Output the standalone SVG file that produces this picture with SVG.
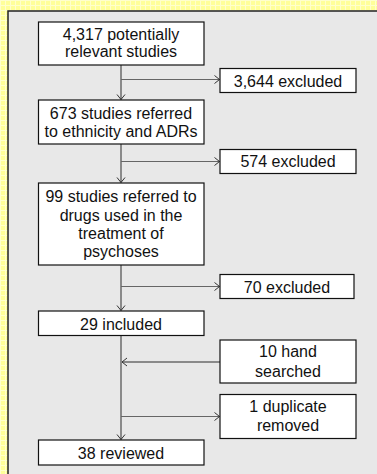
<svg xmlns="http://www.w3.org/2000/svg" width="377" height="474" viewBox="0 0 377 474">
<defs>
<pattern id="grid" width="5" height="5" patternUnits="userSpaceOnUse">
<rect width="5" height="5" fill="#FFFF99"/>
<path d="M0,0.5 H5 M0.5,0 V5" stroke="#FFFFCC" stroke-width="1"/>
</pattern>
<marker id="arr" markerWidth="8" markerHeight="10" refX="6" refY="5" orient="auto" markerUnits="userSpaceOnUse">
<path d="M1,1 L6,5 L1,9" fill="none" stroke="#333" stroke-width="1"/>
</marker>
<style>
.box{fill:#fff;stroke:#111;stroke-width:1.2}
.t{font-family:"Liberation Sans",Arial,sans-serif;font-size:16px;fill:#111;text-anchor:middle}
.main{stroke:#8a8a8a;stroke-width:2;fill:none}
.br{stroke:#666;stroke-width:1;fill:none}
</style>
</defs>
<rect width="377" height="474" fill="url(#grid)"/>
<rect x="8" y="11" width="372" height="466" fill="#E8E8E8" stroke="#222" stroke-width="1.5"/>
<g id="connectors">
<line class="main" x1="121" y1="65" x2="121" y2="99.5" marker-end="url(#arr)"/>
<line class="br" x1="121" y1="79.5" x2="219.5" y2="79.5" marker-end="url(#arr)"/>
<line class="main" x1="121" y1="144" x2="121" y2="182.5" marker-end="url(#arr)"/>
<line class="br" x1="121" y1="161.5" x2="219.5" y2="161.5" marker-end="url(#arr)"/>
<line class="main" x1="121" y1="265" x2="121" y2="310.5" marker-end="url(#arr)"/>
<line class="br" x1="121" y1="286.5" x2="219.5" y2="286.5" marker-end="url(#arr)"/>
<line class="main" x1="121" y1="335.5" x2="121" y2="439.5" marker-end="url(#arr)"/>
<line class="main" x1="220" y1="362" x2="122" y2="362" marker-end="url(#arr)"/>
<line class="br" x1="121" y1="416.5" x2="219.5" y2="416.5" marker-end="url(#arr)"/>
</g>
<g id="n1"><rect class="box" x="38.5" y="22" width="165.5" height="43"/><text class="t" x="121" y="39.5">4,317 potentially</text><text class="t" x="121" y="57.3">relevant studies</text></g>
<g id="n2"><rect class="box" x="220" y="68.5" width="136" height="24"/><text class="t" x="288" y="86.5">3,644 excluded</text></g>
<g id="n3"><rect class="box" x="38.5" y="100" width="165.5" height="44"/><text class="t" x="121" y="119.3">673 studies referred</text><text class="t" x="121" y="137">to ethnicity and ADRs</text></g>
<g id="n4"><rect class="box" x="220" y="149.5" width="136" height="24"/><text class="t" x="288" y="167.3">574 excluded</text></g>
<g id="n5"><rect class="box" x="38.5" y="183" width="165.5" height="82"/><text class="t" x="121" y="201.7">99 studies referred to</text><text class="t" x="121" y="220.5">drugs used in the</text><text class="t" x="121" y="239">treatment of</text><text class="t" x="121" y="257.3">psychoses</text></g>
<g id="n6"><rect class="box" x="220" y="274.5" width="134" height="24"/><text class="t" x="287" y="292.7">70 excluded</text></g>
<g id="n7"><rect class="box" x="38.5" y="311" width="165.5" height="24.5"/><text class="t" x="121" y="330">29 included</text></g>
<g id="n8"><rect class="box" x="220" y="340" width="136" height="43"/><text class="t" x="288" y="357.3">10 hand</text><text class="t" x="288" y="376.7">searched</text></g>
<g id="n9"><rect class="box" x="220" y="394.5" width="136" height="44"/><text class="t" x="288" y="411.7">1 duplicate</text><text class="t" x="288" y="430.7">removed</text></g>
<g id="n10"><rect class="box" x="38.5" y="440" width="165.5" height="25"/><text class="t" x="121" y="459">38 reviewed</text></g>
</svg>
